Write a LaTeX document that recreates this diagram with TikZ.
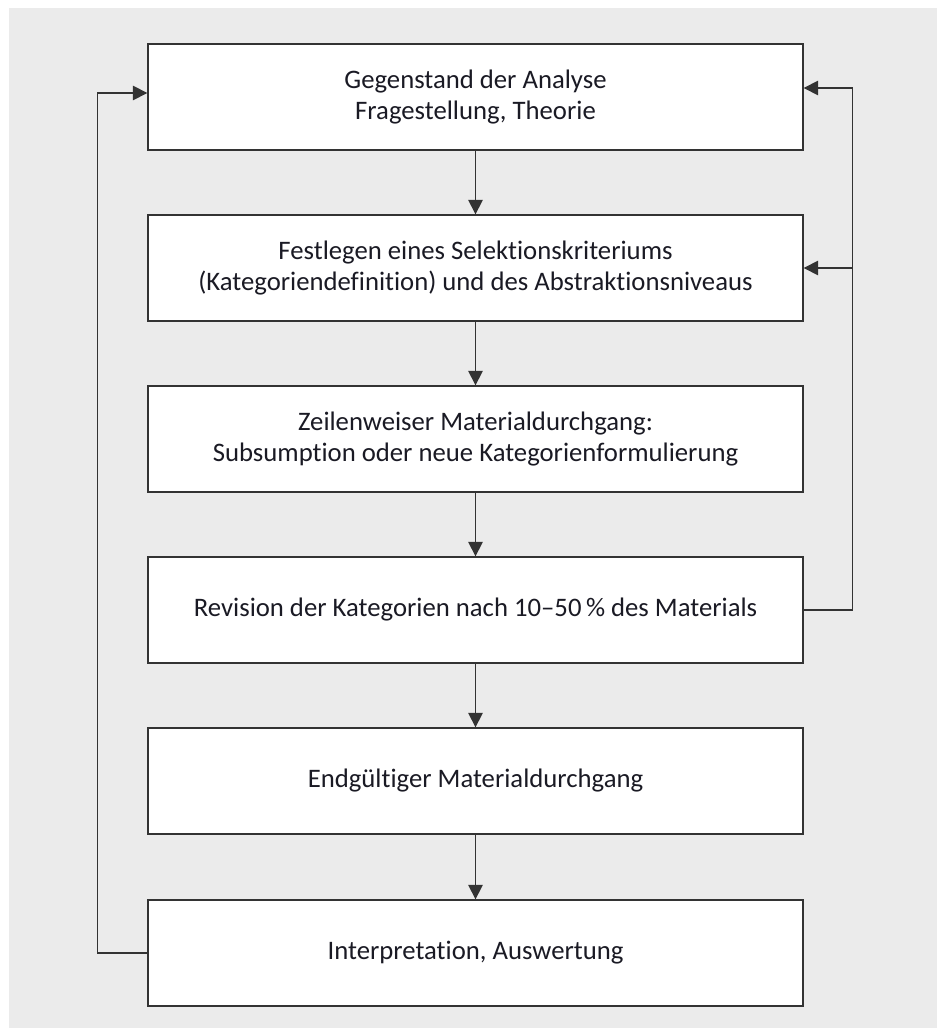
\documentclass[tikz,border=0pt]{standalone}
\usepackage{fontspec}
\setmainfont[Ligatures=NoCommon]{Carlito}
\usetikzlibrary{arrows.meta}
\definecolor{bggray}{HTML}{EBEBEB}
\definecolor{linegray}{HTML}{333333}
\definecolor{txt}{HTML}{1A1A24}
\begin{document}
\begin{tikzpicture}
\tikzstyle{dep}= [-{Triangle[length=0.29cm,width=0.29cm]},draw=linegray,line width=0.75pt]
\tikzstyle{bb}= [rectangle,draw=linegray,line width=0.75pt,fill=white,minimum width=13.1cm,minimum height=2.12cm,align=center,text=txt,font=\fontsize{15.2}{17.6}\selectfont]
\useasboundingbox (0,0) rectangle (18.74,-20.56);
\fill[bggray] (0.18,-0.16) rectangle (18.74,-20.56);
\path
	(9.51, -1.94) node[bb] (g) {Gegenstand der Analyse\\Fragestellung, Theorie}
	(9.51, -5.36) node[bb] (f) {Festlegen eines Selektionskriteriums\\(Kategoriendefinition) und des Abstraktionsniveaus}
	(9.51, -8.78) node[bb] (z) {Zeilenweiser Materialdurchgang:\\Subsumption oder neue Kategorienformulierung}
	(9.51,-12.20) node[bb] (r) {Revision der Kategorien nach 10–50\,\% des Materials}
	(9.51,-15.62) node[bb] (e) {Endgültiger Materialdurchgang}
	(9.51,-19.06) node[bb] (i) {Interpretation, Auswertung}
;
\draw[dep] (g) -- (f);
\draw[dep] (f) -- (z);
\draw[dep] (z) -- (r);
\draw[dep] (r) -- (e);
\draw[dep] (e) -- (i);
% Rueckkopplungen
\draw[dep] (i.west) -- ++(-1,0) |- ([yshift=0.08cm]g.west);
\coordinate (rt) at ([xshift=0.98cm]r.east);
\draw[dep] (r.east) -- (rt) |- ([yshift=0.18cm]g.east);
\draw[dep] (rt |- f.east) -- (f.east);
\end{tikzpicture}
\end{document}
